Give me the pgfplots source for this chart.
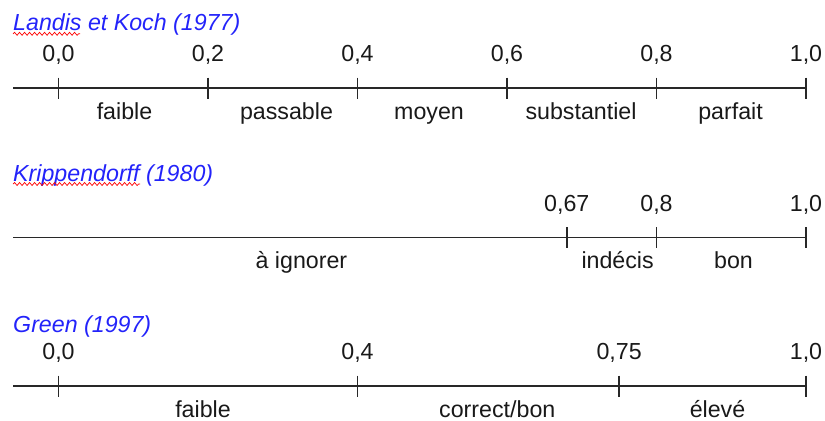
\documentclass[border=0pt]{standalone}
\usepackage{pgfplots}
\pgfplotsset{compat=1.18}
\usepackage{fontspec}
\setmainfont{Liberation Sans}
\usetikzlibrary{decorations.pathmorphing}
\definecolor{titleblue}{RGB}{35,35,250}
\definecolor{ink}{RGB}{25,25,25}
\definecolor{rulec}{RGB}{40,40,40}
\newcommand{\fs}{\fontsize{23.3}{28}\selectfont}
\tikzset{squig/.style={red, line width=0.7bp, decorate, decoration={snake, amplitude=1.5bp, segment length=5bp}}}
\pgfplotsset{
  rowaxis/.style={
    scale only axis, width=793bp, height=40bp,
    xmin=-0.0609, xmax=1, ymin=-1, ymax=1,
    axis lines=none, clip=false, anchor=west,
  },
  baseline/.style={rulec, line width=1.4bp, mark=none},
  ticklbl/.style={only marks, mark=|, mark size=10.5bp,
    mark options={line width=1.4bp, draw=rulec},
    nodes near coords, point meta=explicit symbolic,
    every node near coord/.style={anchor=base, yshift=26.5bp, inner sep=0pt, font=\fs, text=ink}},
  catlbl/.style={only marks, mark=*, mark size=0pt, mark options={draw=none, fill=none},
    nodes near coords, point meta=explicit symbolic,
    every node near coord/.style={anchor=base, yshift=-31bp, inner sep=0pt, font=\fs, text=ink}},
}
\begin{document}
\begin{tikzpicture}
\path[use as bounding box] (0,0) rectangle (825bp,-421bp);

% ---------- Landis et Koch ----------
\node[anchor=base west, inner sep=0pt, font=\fs\itshape, text=titleblue] at (13bp,-30.7bp) {Landis et Koch (1977)};
\draw[squig] (13bp,-33.8bp) -- (80bp,-33.8bp);
\begin{axis}[rowaxis, at={(13bp,-88bp)}]
\addplot[baseline] coordinates {(-0.0609,0) (1,0)};
\addplot[ticklbl] coordinates {(0,0) [0,0] (0.2,0) [0,2] (0.4,0) [0,4] (0.6,0) [0,6] (0.8,0) [0,8] (1.0,0) [1,0]};
\addplot[catlbl] coordinates {(0.0883,0) [faible] (0.305,0) [passable] (0.4957,0) [moyen] (0.699,0) [substantiel] (0.899,0) [parfait]};
\end{axis}

% ---------- Krippendorff ----------
\node[anchor=base west, inner sep=0pt, font=\fs\itshape, text=titleblue] at (13bp,-181bp) {Krippendorff (1980)};
\draw[squig] (13bp,-184bp) -- (140bp,-184bp);
\begin{axis}[rowaxis, at={(13bp,-237.5bp)}]
\addplot[baseline] coordinates {(-0.0609,0) (1,0)};
\addplot[ticklbl] coordinates {(0.68,0) [0,67] (0.8,0) [0,8] (1.0,0) [1,0]};
\addplot[catlbl] coordinates {(0.325,0) [à ignorer] (0.748,0) [indécis] (0.903,0) [bon]};
\end{axis}

% ---------- Green ----------
\node[anchor=base west, inner sep=0pt, font=\fs\itshape, text=titleblue] at (13bp,-332bp) {Green (1997)};
\begin{axis}[rowaxis, at={(13bp,-386bp)}]
\addplot[baseline] coordinates {(-0.0609,0) (1,0)};
\addplot[ticklbl] coordinates {(0,0) [0,0] (0.4,0) [0,4] (0.75,0) [0,75] (1.0,0) [1,0]};
\addplot[catlbl] coordinates {(0.1933,0) [faible] (0.587,0) [correct/bon] (0.8816,0) [élevé]};
\end{axis}
\end{tikzpicture}
\end{document}
